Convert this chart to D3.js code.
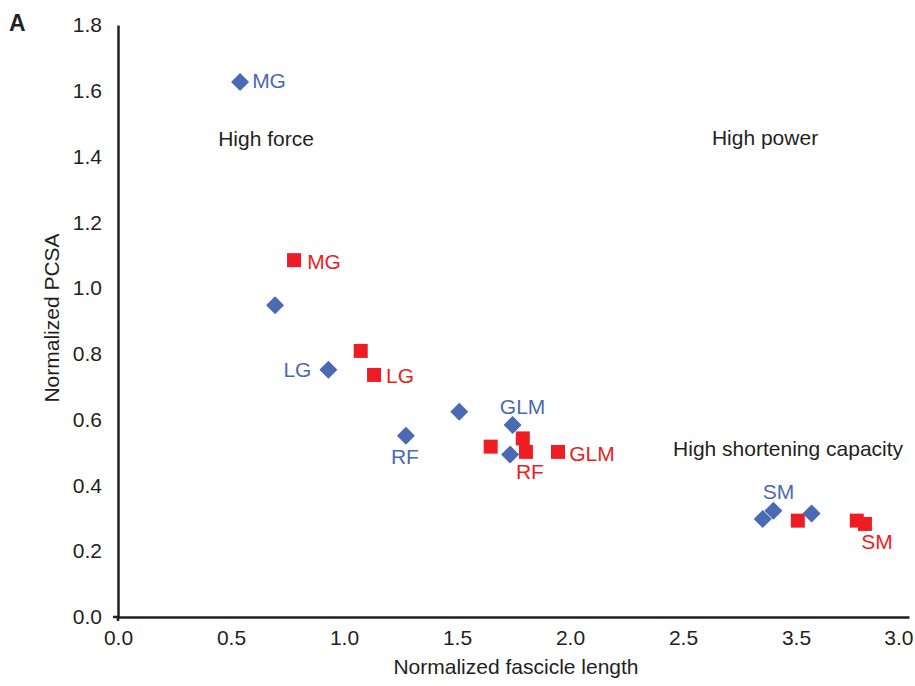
<!DOCTYPE html>
<html>
<head>
<meta charset="utf-8">
<script src="https://cdn.jsdelivr.net/npm/d3@7"></script>
<style>
  body { margin: 0; background: #fff; }
  text { font-family: Arial, "Liberation Sans", sans-serif; }
</style>
</head>
<body>
<script>
// ---- data ----
// blue diamonds
var blueLength = [0.540, 0.695, 0.931, 1.274, 1.510, 1.746, 1.735, 2.853, 2.900, 3.069];
var bluePcsa   = [1.627, 0.948, 0.752, 0.551, 0.624, 0.584, 0.494, 0.298, 0.323, 0.315];
var blueNames  = ["MG", "", "LG", "RF", "", "GLM", "", "", "SM", ""];
// red squares
var redLength = [0.779, 1.074, 1.133, 1.649, 1.791, 1.805, 1.947, 3.008, 3.269, 3.305];
var redPcsa   = [1.085, 0.809, 0.736, 0.518, 0.543, 0.502, 0.502, 0.293, 0.293, 0.283];
var redNames  = ["MG", "", "LG", "", "", "RF", "GLM", "", "", "SM"];

// tick labels as printed (the figure has 3.5 / 3.0 swapped)
var xTicks = [0, 0.5, 1, 1.5, 2, 2.5, 3, 3.5];
var xTickLabels = ["0.0", "0.5", "1.0", "1.5", "2.0", "2.5", "3.5", "3.0"];
var yTicks = [0, 0.2, 0.4, 0.6, 0.8, 1.0, 1.2, 1.4, 1.6, 1.8];

var regionLabels = ["High force", "High power", "High shortening capacity"];

// ---- layout ----
var W = 915, H = 686, fs = 21;
var blue = "#4a6ab4", red = "#ee1d23", ink = "#231f20";

var svg = d3.select("body").append("svg")
    .attr("width", W)
    .attr("height", H);

var x = d3.scaleLinear().domain([0, 3.5]).range([118, 909]);
var y = d3.scaleLinear().domain([0, 1.8]).range([617, 25]);

// x axis
var xAxis = svg.append("g")
    .attr("transform", "translate(0," + y(0) + ")")
    .call(d3.axisBottom(x)
        .tickValues(xTicks)
        .tickSize(0)
        .tickPadding(13)
        .tickFormat(function(d, i) { return xTickLabels[i]; }));
xAxis.select(".domain").attr("stroke", ink).attr("stroke-width", 2.5);
xAxis.selectAll("text").attr("font-size", fs).attr("fill", ink).attr("font-family", null);
// last label sits against the right edge
xAxis.selectAll(".tick").filter(function(d) { return d === 3.5; })
    .select("text").attr("text-anchor", "end").attr("x", 4);

// y axis
var yAxis = svg.append("g")
    .attr("transform", "translate(" + x(0) + ",0)")
    .call(d3.axisLeft(y)
        .tickValues(yTicks)
        .tickSize(0)
        .tickPadding(16)
        .tickFormat(d3.format(".1f")));
yAxis.select(".domain").attr("stroke", ink).attr("stroke-width", 2.5);
yAxis.selectAll("text").attr("font-size", fs).attr("fill", ink).attr("font-family", null);

// little tick at the origin
svg.append("path")
    .attr("d", "M" + (x(0) - 5) + "," + y(0) + "H" + x(0) + "V" + (y(0) + 4))
    .attr("fill", "none")
    .attr("stroke", ink)
    .attr("stroke-width", 2.5);

// axis titles
svg.append("text")
    .attr("x", 516)
    .attr("y", 674)
    .attr("text-anchor", "middle")
    .attr("font-size", fs)
    .attr("fill", ink)
    .text("Normalized fascicle length");

svg.append("text")
    .attr("transform", "translate(59," + 318 + ") rotate(-90)")
    .attr("text-anchor", "middle")
    .attr("font-size", fs)
    .attr("fill", ink)
    .text("Normalized PCSA");

// panel letter
svg.append("text")
    .attr("x", 9)
    .attr("y", 31)
    .attr("font-size", 23)
    .attr("font-weight", "bold")
    .attr("fill", ink)
    .text("A");

// region annotations (centre positions in data units)
var regionPos = [[0.655, 1.453], [2.863, 1.456], [2.965, 0.511]];
svg.selectAll("text.region")
    .data(regionLabels)
  .enter().append("text")
    .attr("class", "region")
    .attr("x", function(d, i) { return x(regionPos[i][0]); })
    .attr("y", function(d, i) { return y(regionPos[i][1]); })
    .attr("dy", "0.35em")
    .attr("text-anchor", "middle")
    .attr("font-size", fs)
    .attr("fill", ink)
    .text(function(d) { return d; });

// ---- points ----
var blueData = blueLength.map(function(d, i) {
  return {fl: d, pcsa: bluePcsa[i], name: blueNames[i]};
});
var redData = redLength.map(function(d, i) {
  return {fl: d, pcsa: redPcsa[i], name: redNames[i]};
});

var diamond = d3.symbol().type(d3.symbolSquare).size(162);
var square = d3.symbol().type(d3.symbolSquare).size(196);

svg.selectAll("path.red")
    .data(redData)
  .enter().append("path")
    .attr("class", "red")
    .attr("d", square)
    .attr("fill", red)
    .attr("transform", function(d) {
      return "translate(" + x(d.fl) + "," + y(d.pcsa) + ")";
    });

svg.selectAll("path.blue")
    .data(blueData)
  .enter().append("path")
    .attr("class", "blue")
    .attr("d", diamond)
    .attr("fill", blue)
    .attr("transform", function(d) {
      return "translate(" + x(d.fl) + "," + y(d.pcsa) + ") rotate(45)";
    });

// label offsets (pixels from the marker centre)
var blueOffset = {MG: [29, -1], LG: [-31, 0], RF: [-1, 21], GLM: [10, -18], SM: [5, -19]};
var redOffset = {MG: [30, 1], LG: [26, 1], RF: [4, 20], GLM: [34, 2], SM: [12, 18]};

function addLabels(data, offs, color, cls) {
  svg.selectAll("text." + cls)
      .data(data.filter(function(d) { return d.name; }))
    .enter().append("text")
      .attr("class", cls)
      .attr("x", function(d) { return x(d.fl) + offs[d.name][0]; })
      .attr("y", function(d) { return y(d.pcsa) + offs[d.name][1]; })
      .attr("dy", "0.35em")
      .attr("text-anchor", "middle")
      .attr("font-size", fs)
      .attr("fill", color)
      .text(function(d) { return d.name; });
}
addLabels(blueData, blueOffset, blue, "bluelab");
addLabels(redData, redOffset, red, "redlab");
</script>
</body>
</html>
